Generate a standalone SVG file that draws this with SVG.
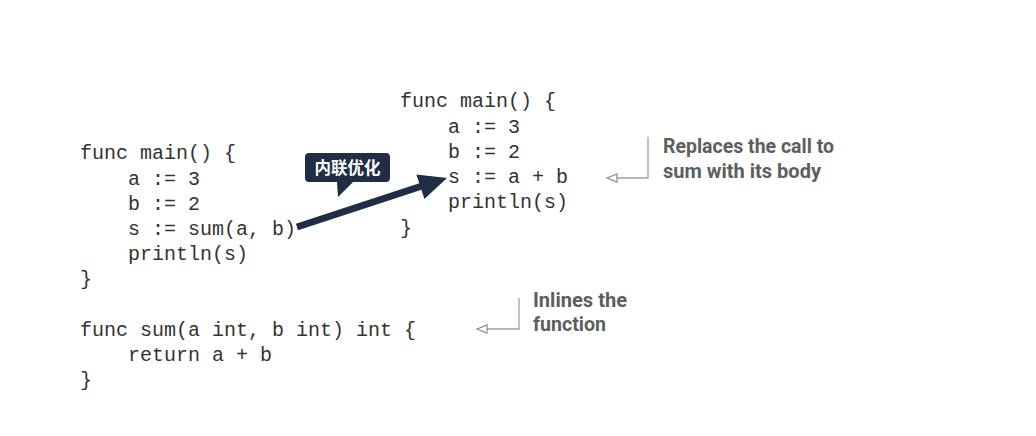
<svg xmlns="http://www.w3.org/2000/svg" width="1036" height="436" viewBox="0 0 1036 436">
<style>
.code{font-family:"Liberation Mono","Courier New",monospace;font-size:20px;fill:#333;white-space:pre}
.note{font-family:"Roboto","Liberation Sans",sans-serif;font-weight:bold;font-size:20px;fill:#5e5e5e}
.lead{fill:none;stroke:#a0a0a0;stroke-width:1.3}
.head{fill:#fff;stroke:#8a8a8a;stroke-width:1.2}
.cjk{font-family:"Noto Sans CJK SC",sans-serif;font-weight:bold;font-size:16.5px;fill:#fff}
</style>
<rect width="1036" height="436" fill="#fff"/>
<g id="before">
<text class="code" x="80" y="159">func main() {</text>
<text class="code" x="128" y="185">a := 3</text>
<text class="code" x="128" y="210">b := 2</text>
<text class="code" x="128" y="235">s := sum(a, b)</text>
<text class="code" x="128" y="260">println(s)</text>
<text class="code" x="80" y="285">}</text>
</g>
<g id="sumfunc">
<text class="code" x="80" y="336">func sum(a int, b int) int {</text>
<text class="code" x="128" y="361">return a + b</text>
<text class="code" x="80" y="386">}</text>
</g>
<g id="after">
<text class="code" x="400" y="107">func main() {</text>
<text class="code" x="448" y="133">a := 3</text>
<text class="code" x="448" y="158">b := 2</text>
<text class="code" x="448" y="183">s := a + b</text>
<text class="code" x="448" y="208">println(s)</text>
<text class="code" x="400" y="234">}</text>
</g>
<g id="callout">
<path d="M309,153 H386 Q390,153 390,157 V178 Q390,182 386,182 H353 L338,197 L337,182 H309 Q305,182 305,178 V157 Q305,153 309,153 Z" fill="#1f2d45"/>
<text class="cjk" x="347.5" y="174" text-anchor="middle">内联优化</text>
</g>
<g id="note-replaces">
<text class="note" x="663" y="153" textLength="171" lengthAdjust="spacingAndGlyphs">Replaces the call to</text>
<text class="note" x="663" y="178" textLength="158" lengthAdjust="spacingAndGlyphs">sum with its body</text>
</g>
<g id="note-inlines">
<text class="note" x="533" y="307" textLength="94" lengthAdjust="spacingAndGlyphs">Inlines the</text>
<text class="note" x="533" y="331" textLength="73" lengthAdjust="spacingAndGlyphs">function</text>
</g>
<g id="connectors">
<line x1="297" y1="227" x2="422" y2="186" stroke="#1f2d45" stroke-width="7"/>
<polygon points="447,178 416.4,174.4 424.4,199" fill="#1f2d45"/>
<polyline class="lead" points="648,137 648,178 617,178"/>
<polygon class="head" points="607,178 617,174 617,182"/>
<polyline class="lead" points="519,298 519,329 487,329"/>
<polygon class="head" points="477,329 487,325 487,333"/>
</g>
</svg>
